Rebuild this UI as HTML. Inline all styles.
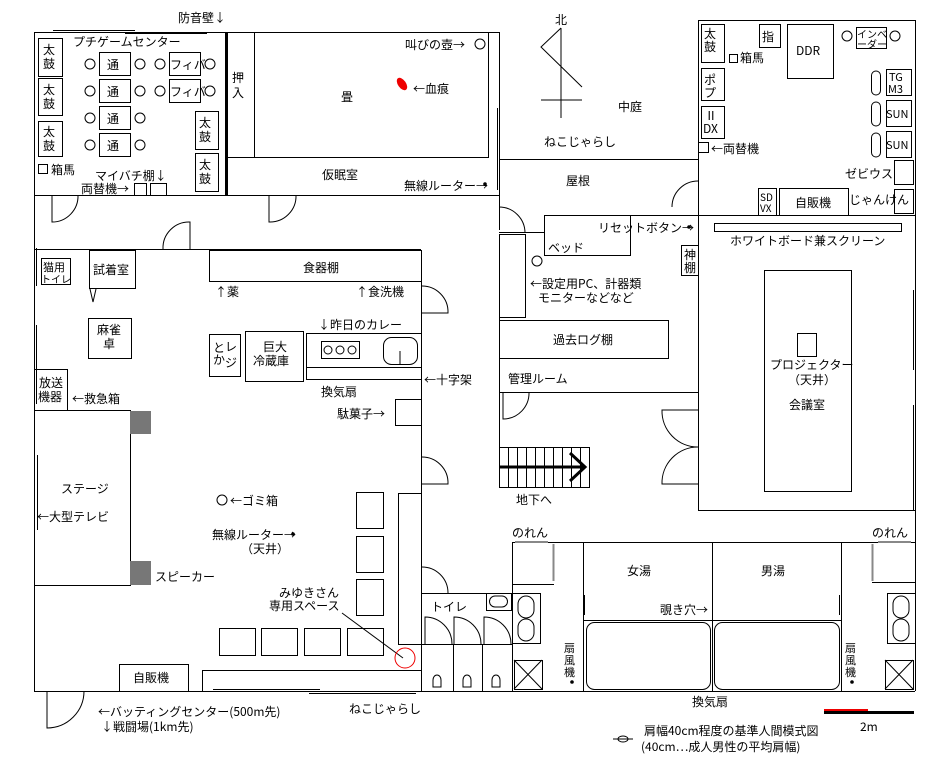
<!DOCTYPE html>
<html><head><meta charset="utf-8"><style>
body{margin:0;background:#fff}
svg{display:block}
text{font-family:"Noto Sans CJK JP","Liberation Sans",sans-serif;font-size:12px;fill:#000}
</style></head><body>
<svg width="952" height="767" viewBox="0 0 952 767" xmlns="http://www.w3.org/2000/svg">
<g fill="none" stroke="#000" stroke-width="1">
<rect x="34.5" y="32.5" width="465" height="163"/>
<line x1="53" y1="30.5" x2="135" y2="30.5"/><line x1="125" y1="33.5" x2="207" y2="33.5"/>
<line x1="254.5" y1="32" x2="254.5" y2="157"/>
<polyline points="228,157.5 488.5,157.5 488.5,32"/>
<line x1="497.5" y1="108" x2="497.5" y2="190"/>
<line x1="34.5" y1="195" x2="34.5" y2="691"/>
<line x1="34" y1="249.5" x2="421" y2="249.5"/>
<line x1="499.5" y1="195" x2="499.5" y2="230"/>
<path d="M52,195 V222 A26,26 0 0 0 78,195"/>
<path d="M269,195 V222 A26,26 0 0 0 296,195"/>
<path d="M163,249 A26,26 0 0 1 190,222 V249"/>
<rect x="38.5" y="38.5" width="24" height="38"/><rect x="38.5" y="78.5" width="24" height="37"/><rect x="38.5" y="121.5" width="24" height="35"/>
<rect x="195.5" y="111.5" width="23" height="38"/><rect x="195.5" y="153.5" width="23" height="38"/>
<rect x="99.5" y="52.5" width="31" height="23"/><rect x="99.5" y="79.5" width="31" height="23"/><rect x="99.5" y="106.5" width="31" height="23"/><rect x="99.5" y="133.5" width="31" height="23"/>
<rect x="169.5" y="52.5" width="31" height="23"/><rect x="169.5" y="79.5" width="31" height="23"/>
<circle cx="90" cy="64" r="5"/><circle cx="140" cy="64" r="5"/><circle cx="160" cy="64" r="5"/><circle cx="210" cy="64" r="5"/>
<circle cx="90" cy="91" r="5"/><circle cx="140" cy="91" r="5"/><circle cx="160" cy="91" r="5"/><circle cx="210" cy="91" r="5"/>
<circle cx="90" cy="118" r="5"/><circle cx="140" cy="118" r="5"/>
<circle cx="90" cy="145" r="5"/><circle cx="140" cy="145" r="5"/>
<circle cx="480" cy="44" r="5"/>
<rect x="38.5" y="164.5" width="9" height="9"/>
<rect x="134.5" y="183.5" width="12" height="12"/><rect x="150.5" y="183.5" width="16" height="12"/>
<line x1="561" y1="28" x2="561" y2="118"/><line x1="541" y1="100" x2="582" y2="100"/>
<polyline points="561,28 541,47 582,87"/>
<rect x="698.5" y="20.5" width="217" height="195"/>
<rect x="701.5" y="24.5" width="23" height="38"/><rect x="759.5" y="24.5" width="21" height="23"/><rect x="787.5" y="24.5" width="46" height="54"/>
<rect x="856.5" y="27.5" width="30" height="21"/>
<circle cx="847" cy="36" r="5"/><circle cx="895" cy="36" r="5"/>
<rect x="701.5" y="68.5" width="23" height="32"/><rect x="701.5" y="106.5" width="23" height="32"/>
<rect x="729.5" y="54.5" width="8" height="8"/><rect x="698.5" y="142.5" width="10" height="10"/>
<rect x="886.5" y="69.5" width="25" height="26"/><rect x="886.5" y="100.5" width="25" height="26"/><rect x="886.5" y="131.5" width="25" height="26"/>
<rect x="871.5" y="71" width="9" height="24" rx="4.5"/><rect x="871.5" y="102" width="9" height="24" rx="4.5"/><rect x="871.5" y="133" width="9" height="24" rx="4.5"/>
<rect x="894.5" y="160.5" width="19" height="24"/><rect x="894.5" y="189.5" width="19" height="24"/>
<rect x="758.5" y="188.5" width="18" height="27"/><rect x="779.5" y="188.5" width="69" height="27"/>
<line x1="499" y1="159.5" x2="698" y2="159.5"/>
<path d="M698,181 A26,26 0 0 0 672,207"/>
<rect x="544.5" y="215.5" width="86" height="40"/>
<line x1="630" y1="215.5" x2="698" y2="215.5"/>
<line x1="499" y1="232.5" x2="544" y2="232.5"/>
<rect x="499.5" y="234.5" width="26" height="83"/>
<path d="M499,207 A26,26 0 0 1 525,233"/>
<circle cx="537" cy="261" r="5"/>
<rect x="681.5" y="245.5" width="17" height="30"/>
<rect x="499.5" y="320.5" width="169" height="38"/>
<line x1="499" y1="392.5" x2="698" y2="392.5"/>
<line x1="499.5" y1="392" x2="499.5" y2="420"/>
<path d="M503,392 V419 A26,26 0 0 0 529,392"/>
<rect x="499.5" y="447.5" width="90" height="40"/>
<line x1="508.5" y1="447" x2="508.5" y2="487"/><line x1="517.5" y1="447" x2="517.5" y2="487"/><line x1="526.5" y1="447" x2="526.5" y2="487"/><line x1="535.5" y1="447" x2="535.5" y2="487"/><line x1="544.5" y1="447" x2="544.5" y2="487"/><line x1="553.5" y1="447" x2="553.5" y2="487"/><line x1="562.5" y1="447" x2="562.5" y2="487"/><line x1="571.5" y1="447" x2="571.5" y2="487"/><line x1="580.5" y1="447" x2="580.5" y2="487"/>
<line x1="499" y1="467" x2="585" y2="467" stroke-width="3"/><polyline points="570,453 585,467 570,481" stroke-width="3"/>
<line x1="698.5" y1="215" x2="698.5" y2="510"/>
<line x1="698" y1="510.5" x2="915" y2="510.5"/>
<line x1="915.5" y1="215" x2="915.5" y2="510"/><line x1="913.5" y1="290" x2="913.5" y2="370"/><line x1="913.5" y1="405" x2="913.5" y2="510"/>
<rect x="714.5" y="223.5" width="187" height="8"/>
<rect x="764.5" y="270.5" width="87" height="221"/>
<rect x="797.5" y="333.5" width="19" height="23"/>
<path d="M698,410 H662 A36,36 0 0 0 698,447 M698,447 A36,36 0 0 0 662,484 H698"/>
<line x1="421.5" y1="250" x2="421.5" y2="691"/>
<path d="M421,286 A26,26 0 0 1 448,313 H421"/>
<path d="M421,457 A26,26 0 0 1 448,484 H421"/>
<line x1="499.5" y1="295" x2="499.5" y2="470"/>
<path d="M421,567 A26,26 0 0 1 448,593"/>
<rect x="209.5" y="250.5" width="212" height="31"/>
<rect x="209.5" y="334.5" width="31" height="42"/>
<rect x="245.5" y="331.5" width="58" height="50"/>
<rect x="306.5" y="333.5" width="115" height="34"/><line x1="306" y1="379.5" x2="421" y2="379.5"/><line x1="306.5" y1="367" x2="306.5" y2="379"/>
<rect x="321.5" y="341.5" width="38" height="17"/>
<circle cx="328" cy="350" r="4"/><circle cx="340" cy="350" r="4"/><circle cx="352" cy="350" r="4"/>
<rect x="383.5" y="337.5" width="34" height="27" rx="8"/><line x1="400" y1="351" x2="400" y2="365"/>
<rect x="395.5" y="399.5" width="26" height="26"/>
<rect x="41.5" y="258.5" width="29" height="26"/>
<rect x="89.5" y="250.5" width="46" height="38"/><polyline points="90,289 93,302 96,289"/>
<rect x="88.5" y="318.5" width="43" height="40"/>
<rect x="34.5" y="369.5" width="33" height="41"/>
<rect x="34.5" y="410.5" width="96" height="175"/>
<line x1="37.5" y1="455" x2="37.5" y2="530"/><line x1="36.5" y1="325" x2="36.5" y2="404"/><line x1="36.5" y1="248" x2="36.5" y2="286"/>
<circle cx="222" cy="500" r="5"/>
<rect x="356.5" y="492.5" width="27" height="36"/><rect x="356.5" y="536.5" width="27" height="36"/><rect x="356.5" y="579.5" width="27" height="36"/>
<rect x="398.5" y="493.5" width="23" height="151"/>
<rect x="219.5" y="628.5" width="36" height="27"/><rect x="261.5" y="628.5" width="36" height="27"/><rect x="304.5" y="628.5" width="36" height="27"/><rect x="347.5" y="628.5" width="36" height="27"/>
<line x1="342" y1="613" x2="403" y2="658"/>
<circle cx="405" cy="658" r="10" stroke="#e00"/>
<rect x="119.5" y="664.5" width="69" height="27"/>
<rect x="202.5" y="670.5" width="219" height="21"/>
<line x1="34" y1="691.5" x2="915" y2="691.5"/>
<line x1="213" y1="689.5" x2="320" y2="689.5"/><line x1="309" y1="693.5" x2="416" y2="693.5"/>
<path d="M47,691 V728 A37,37 0 0 0 84,691"/>
<line x1="421" y1="593.5" x2="512" y2="593.5"/><line x1="421" y1="644.5" x2="512" y2="644.5"/>
<line x1="453.5" y1="644" x2="453.5" y2="691"/><line x1="482.5" y1="644" x2="482.5" y2="691"/>
<path d="M425,644 V617 A27,27 0 0 1 452,644 M454,644 V617 A27,27 0 0 1 481,644 M484,644 V617 A27,27 0 0 1 511,644"/>
<rect x="486.5" y="593.5" width="25" height="17"/><rect x="489.5" y="596" width="18" height="11" rx="5.5"/>
<path d="M433,687 v-7 a4,5 0 0 1 8,0 v7 z M463,687 v-7 a4,5 0 0 1 8,0 v7 z M492,687 v-7 a4,5 0 0 1 8,0 v7 z"/>
<line x1="512" y1="542.5" x2="915" y2="542.5"/>
<line x1="512.5" y1="542" x2="512.5" y2="691"/><line x1="583.5" y1="542" x2="583.5" y2="691"/><line x1="712.5" y1="542" x2="712.5" y2="691"/><line x1="841.5" y1="542" x2="841.5" y2="691"/><line x1="915.5" y1="510" x2="915.5" y2="691"/>
<line x1="583" y1="620.5" x2="841" y2="620.5"/>
<rect x="586.5" y="622.5" width="124" height="67" rx="8"/><rect x="714.5" y="622.5" width="125" height="67" rx="8"/>
<line x1="512" y1="584.5" x2="554" y2="584.5"/><line x1="872" y1="582.5" x2="915" y2="582.5"/>
<line x1="515" y1="542" x2="548" y2="542" stroke="#888" stroke-width="2"/><line x1="553.5" y1="544" x2="553.5" y2="581" stroke="#888" stroke-width="2"/>
<line x1="878" y1="542" x2="911" y2="542" stroke="#888" stroke-width="2"/><line x1="872.5" y1="544" x2="872.5" y2="581" stroke="#888" stroke-width="2"/>
<rect x="512.5" y="593.5" width="28" height="50"/><rect x="518" y="596" width="16" height="22" rx="8"/><rect x="518" y="619" width="16" height="22" rx="8"/>
<rect x="887.5" y="593.5" width="28" height="50"/><rect x="893" y="596" width="16" height="22" rx="8"/><rect x="893" y="619" width="16" height="22" rx="8"/>
<rect x="514.5" y="660.5" width="28" height="29"/><path d="M514,660 L542,689 M542,660 L514,689"/>
<rect x="885.5" y="660.5" width="28" height="29"/><path d="M885,660 L913,689 M913,660 L885,689"/>
<line x1="584.5" y1="595" x2="584.5" y2="615"/><line x1="839.5" y1="595" x2="839.5" y2="615"/>
</g>
<rect x="225" y="32" width="3" height="163"/>
<ellipse cx="402" cy="84" rx="4" ry="7" fill="#e00" transform="rotate(-35 402 84)"/>
<g fill="#777"><rect x="130" y="411" width="21" height="23"/><rect x="130" y="561" width="21" height="24"/></g>
<circle cx="485" cy="184" r="1.8"/><circle cx="689" cy="227" r="1.8"/><circle cx="293" cy="534" r="1.8"/><circle cx="572" cy="682" r="1.8"/><circle cx="852" cy="682" r="1.8"/>
<rect x="824" y="709" width="44" height="2" fill="#e00"/><rect x="824" y="711" width="90" height="3" fill="#000"/>
<ellipse cx="623" cy="739" rx="5" ry="3" fill="none" stroke="#000"/><line x1="613" y1="739" x2="633" y2="739" stroke="#000"/>
<text x="178" y="22">防音壁↓</text>
<text x="73" y="46">プチゲームセンター</text>
<text x="43" y="54">太</text><text x="43" y="68">鼓</text><text x="43" y="94">太</text><text x="43" y="108">鼓</text><text x="43" y="136">太</text><text x="43" y="150">鼓</text>
<text x="199" y="127">太</text><text x="199" y="141">鼓</text><text x="199" y="169">太</text><text x="199" y="183">鼓</text>
<text x="107" y="69">通</text><text x="107" y="96">通</text><text x="107" y="123">通</text><text x="107" y="150">通</text>
<text x="170" y="69">フィバ</text><text x="170" y="96">フィバ</text>
<text x="51" y="174">箱馬</text><text x="95" y="180">マイバチ棚↓</text><text x="81" y="193">両替機→</text>
<text x="232" y="82">押</text><text x="232" y="97">入</text><text x="341" y="101">畳</text>
<text x="405" y="49">叫びの壺→</text><text x="413" y="93">←血痕</text>
<text x="322" y="179">仮眠室</text><text x="404" y="190">無線ルーター→</text>
<text x="555" y="24">北</text><text x="618" y="111">中庭</text><text x="544" y="146">ねこじゃらし</text><text x="566" y="185">屋根</text>
<text x="704" y="38">太</text><text x="704" y="51">鼓</text><text x="762" y="41">指</text><text x="796" y="55">DDR</text>
<text x="740" y="62">箱馬</text>
<text x="857" y="38" style="font-size:10px">インベ</text><text x="857" y="48" style="font-size:10px">ーダー</text>
<text x="704" y="84">ポ</text><text x="704" y="97">プ</text><text x="705" y="120">Ⅱ</text><text x="703" y="133">DX</text>
<text x="711" y="153">←両替機</text>
<text x="889" y="81" style="font-size:11px">TG</text><text x="888" y="93" style="font-size:11px">M3</text>
<text x="886" y="118" style="font-size:11px">SUN</text><text x="886" y="149" style="font-size:11px">SUN</text>
<text x="845" y="178">ゼビウス</text><text x="849" y="204">じゃんけん</text>
<text x="760" y="201" style="font-size:10px">SD</text><text x="760" y="212" style="font-size:10px">VX</text><text x="795" y="207">自販機</text>
<text x="598" y="232">リセットボタン→</text><text x="730" y="245">ホワイトボード兼スクリーン</text>
<text x="548" y="252">ベッド</text><text x="684" y="259">神</text><text x="684" y="272">棚</text>
<text x="530" y="288">←設定用PC、計器類</text><text x="538" y="302">モニターなどなど</text>
<text x="553" y="344">過去ログ棚</text><text x="508" y="383">管理ルーム</text>
<text x="770" y="369">プロジェクター</text><text x="788" y="384">（天井）</text><text x="789" y="409">会議室</text>
<text x="516" y="504">地下へ</text>
<text x="43" y="271" style="font-size:11px">猫用</text><text x="41" y="283" style="font-size:10px">トイレ</text>
<text x="93" y="274">試着室</text><text x="97" y="334">麻雀</text><text x="103" y="348">卓</text>
<text x="39" y="387">放送</text><text x="38" y="401">機器</text><text x="72" y="403">←救急箱</text>
<text x="303" y="272">食器棚</text><text x="215" y="296">↑薬</text><text x="356" y="296">↑食洗機</text>
<text x="318" y="329">↓昨日のカレー</text>
<text x="213" y="352">と</text><text x="225" y="351">レ</text><text x="213" y="364">か</text><text x="225" y="367">ジ</text>
<text x="263" y="351">巨大</text><text x="253" y="365">冷蔵庫</text>
<text x="424" y="384">←十字架</text><text x="321" y="396">換気扇</text><text x="337" y="418">駄菓子→</text>
<text x="61" y="493">ステージ</text><text x="37" y="521">←大型テレビ</text>
<text x="230" y="505">←ゴミ箱</text><text x="212" y="539">無線ルーター→</text><text x="241" y="553">（天井）</text>
<text x="155" y="581">スピーカー</text>
<text x="279" y="597">みゆきさん</text><text x="269" y="610">専用スペース</text>
<text x="133" y="682">自販機</text>
<text x="98" y="716">←バッティングセンター(500m先)</text><text x="101" y="731">↓戦闘場(1km先)</text>
<text x="349" y="713">ねこじゃらし</text>
<text x="431" y="611">トイレ</text>
<text x="512" y="537">のれん</text><text x="872" y="537">のれん</text>
<text x="627" y="575">女湯</text><text x="761" y="575">男湯</text><text x="660" y="614">覗き穴→</text>
<text x="564" y="652" style="font-size:11px">扇</text><text x="564" y="664" style="font-size:11px">風</text><text x="564" y="676" style="font-size:11px">機</text>
<text x="845" y="652" style="font-size:11px">扇</text><text x="845" y="664" style="font-size:11px">風</text><text x="845" y="676" style="font-size:11px">機</text>
<text x="692" y="706">換気扇</text><text x="860" y="731">2m</text>
<text x="644" y="735">肩幅40cm程度の基準人間模式図</text><text x="641" y="751">(40cm…成人男性の平均肩幅)</text>
</svg>
</body></html>
